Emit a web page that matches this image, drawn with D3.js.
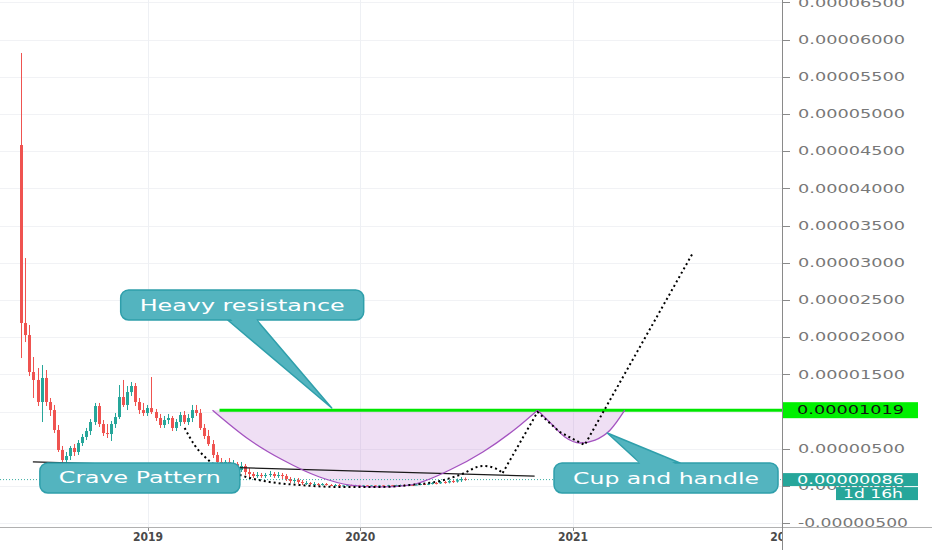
<!DOCTYPE html>
<html><head><meta charset="utf-8">
<script src="https://cdn.jsdelivr.net/npm/d3@7"></script>
<style>html,body{margin:0;padding:0;background:#fff;overflow:hidden}</style>
</head><body><svg id="c" width="932" height="550"></svg>
<script>
// ---------- DATA (prices in units of 1e-8) ----------
const UNIT = 1e-8;
const START_WEEK = "2018-05-28";
const opens = [4583,2191,2029,1532,1425,1129,1452,1129,1021,753, 484,349,403,511,457,578,659,739,860,1075, 833,712,699,833,927,1196,1089,1263,1344,1129, 1021,981,1048,995,914,820,887,914,780,860, 954,860,914,1021,981,780,672,564,417,323, 269,323,269,296,215,269,188,161,134,148, 134,148,161,134,148,134,94,67,81,54, 40,40,27,27,13,27,13,8,13,8, 8,10,6,9,6,8,5,7,5,8, 6,9,7,10,13,10,15,13,20,27, 20,30,40,35,54,48,67,60,78,94];
const closes = [2191,2029,1532,1425,1129,1452,1129,1021,753,484, 349,403,511,457,578,659,739,860,1075,833, 712,699,833,927,1196,1089,1263,1344,1129,1021, 981,1048,995,914,820,887,914,780,860,954, 860,914,1021,981,780,672,564,417,323,269, 323,269,296,215,269,188,161,134,148,134, 148,161,134,148,134,94,67,81,54,40, 40,27,27,13,27,13,8,13,8,8, 10,6,9,6,8,5,7,5,8,6, 9,7,10,13,10,15,13,20,27,20, 30,40,35,54,48,67,60,78,94,86];
const highs = [5820,3064,2164,1734,1586,1626,1559,1183,1089,820, 538,457,538,564,618,699,780,900,1116,1116, 887,833,874,981,1357,1425,1344,1398,1384,1183, 1116,1089,1465,1035,968,941,968,941,900,995, 1008,968,1089,1089,1035,833,753,618,457,376, 349,376,349,323,323,296,242,188,188,175, 175,202,188,188,175,161,121,108,108,81, 67,54,54,40,40,40,27,27,27,13, 20,18,16,15,14,12,13,12,14,12, 15,14,16,20,22,24,27,30,38,40, 45,54,54,67,70,81,90,100,121,115];
const lows = [1720,1935,1478,1183,1075,860,1075,941,712,457, 269,296,349,403,417,538,618,685,820,793, 672,645,605,780,900,1062,1021,1210,1075,968, 941,941,968,874,780,780,833,739,739,806, 833,820,860,941,753,632,538,376,269,228, 228,215,215,175,188,148,121,108,108,108, 108,121,108,108,94,67,40,40,27,13, 13,13,5,5,5,5,3,3,3,3, 3,3,3,2,2,2,2,2,2,2, 3,3,3,5,5,6,6,8,10,12, 12,20,22,27,30,35,40,45,54,70];

const yTickValues = [-0.000005,0,0.000005,0.00001,0.000015,0.00002,0.000025,0.00003,0.000035,0.00004,0.000045,0.00005,0.000055,0.00006,0.000065];
const yearTicks = ["2019","2020","2021","2022"];

const resistance = 1019;
const resistanceStart = "2019-05-04";
const lastPrice = 86;
const countdown = "1d 16h";

const craveDates = ["2018-06-17","2020-10-27"];
const craveValues = [323,134];

const cupDates = ["2019-04-22","2019-06-25","2019-08-21","2019-10-23","2019-12-14","2020-02-04","2020-03-26","2020-06-03","2020-07-30","2020-09-26","2020-11-01"];
const cupValues = [1019,618,349,121,13,-13,13,215,457,780,1019];
const handleDates = ["2020-11-01","2020-11-25","2020-12-18","2021-01-13","2021-02-08","2021-03-06","2021-03-31"];
const handleValues = [1019,833,659,578,618,753,1019];

const projCurveDates = ["2019-03-05","2019-03-22","2019-04-09","2019-04-26","2019-05-25","2019-06-25","2019-07-29","2019-09-19","2019-11-27","2020-02-04","2020-03-26","2020-05-17","2020-06-20","2020-07-30","2020-08-19","2020-09-02"];
const projCurveValues = [780,551,390,282,188,108,54,13,-13,-13,13,67,148,269,242,175];
const projLineDates = ["2020-09-02","2020-11-01","2020-12-09","2021-01-21","2021-07-26"];
const projLineValues = [175,995,726,551,3131];

const noteTexts = ["Heavy resistance","Crave Pattern","Cup and handle"];

// ---------- DRAW ----------
const parse = d3.timeParse("%Y-%m-%d");
const svg = d3.select("#c");
const plotR = 782, plotB = 527;
const x = d3.scaleTime().domain([parse("2019-01-01"), parse("2021-01-01")]).range([148, 573]);
const y = d3.scaleLinear().domain([-0.000005, 0.000065]).range([523.2, 2.4]);
const u = v => v * UNIT;
const FONT = "DejaVu Sans, Liberation Sans, sans-serif";

svg.append("rect").attr("width", 932).attr("height", 550).attr("fill", "#fff");
const defs = svg.append("defs");
defs.append("clipPath").attr("id", "plot").append("rect").attr("width", plotR).attr("height", plotB);
defs.append("clipPath").attr("id", "yax").append("rect").attr("x", plotR).attr("width", 150).attr("height", plotB);
defs.append("clipPath").attr("id", "xax").append("rect").attr("y", plotB).attr("width", plotR).attr("height", 30);

const plot = svg.append("g").attr("clip-path", "url(#plot)");

// grid
plot.selectAll(".hg").data(yTickValues).join("line")
  .attr("x1", 0).attr("x2", plotR).attr("y1", d => Math.round(y(d)) + 0.5).attr("y2", d => Math.round(y(d)) + 0.5)
  .attr("stroke", "#f1f2f5");
plot.selectAll(".vg").data(yearTicks).join("line")
  .attr("x1", d => Math.round(x(parse(d + "-01-01"))) + 0.5).attr("x2", d => Math.round(x(parse(d + "-01-01"))) + 0.5)
  .attr("y1", 0).attr("y2", plotB).attr("stroke", "#eef0f4");

// cup fill
const ptsOf = (ds, vs) => ds.map((d, i) => [x(parse(d)), y(u(vs[i]))]);
const cupPts = ptsOf(cupDates, cupValues);
const handlePts = ptsOf(handleDates, handleValues);
const area = d3.area().x(d => d[0]).y0(y(u(resistance))).y1(d => d[1]).curve(d3.curveMonotoneX);
const curveLine = d3.line().x(d => d[0]).y(d => d[1]).curve(d3.curveMonotoneX);
[cupPts, handlePts].forEach(p => plot.append("path").attr("d", area(p)).attr("fill", "rgba(190,120,210,0.24)"));

// candles
const weeks = opens.map((_, i) => d3.timeDay.offset(parse(START_WEEK), 7 * i));
const candles = plot.append("g");
weeks.forEach((d, i) => {
  const cx = x(d);
  const up = closes[i] >= opens[i];
  const col = up ? "#26a69a" : "#ef5350";
  candles.append("line")
    .attr("x1", Math.round(cx) + 0.5).attr("x2", Math.round(cx) + 0.5)
    .attr("y1", y(u(highs[i]))).attr("y2", y(u(lows[i])))
    .attr("stroke", col).attr("stroke-width", 1);
  const yt = y(u(Math.max(opens[i], closes[i]))), yb = y(u(Math.min(opens[i], closes[i])));
  candles.append("rect")
    .attr("x", Math.round(cx) - 1).attr("width", 3)
    .attr("y", yt).attr("height", Math.max(1, yb - yt))
    .attr("fill", col);
});

// current price dotted line
plot.append("line").attr("x1", 0).attr("x2", plotR)
  .attr("y1", y(u(lastPrice))).attr("y2", y(u(lastPrice)))
  .attr("stroke", "#26a69a").attr("stroke-width", 1).attr("stroke-dasharray", "1,2").attr("opacity", 0.9);

// crave trend line
const cr = ptsOf(craveDates, craveValues);
plot.append("line").attr("x1", cr[0][0]).attr("y1", cr[0][1]).attr("x2", cr[1][0]).attr("y2", cr[1][1])
  .attr("stroke", "#1a1a1a").attr("stroke-width", 1.3);

// resistance line
plot.append("line").attr("x1", x(parse(resistanceStart))).attr("x2", plotR)
  .attr("y1", y(u(resistance))).attr("y2", y(u(resistance)))
  .attr("stroke", "#00e600").attr("stroke-width", 3);

// cup strokes
[cupPts, handlePts].forEach(p => plot.append("path").attr("d", curveLine(p))
  .attr("fill", "none").attr("stroke", "#a453c0").attr("stroke-width", 1.3));

// projection
plot.append("path").attr("d", curveLine(ptsOf(projCurveDates, projCurveValues)))
  .attr("fill", "none").attr("stroke", "#000").attr("stroke-width", 2).attr("stroke-dasharray", "2,3");
plot.append("path").attr("d", d3.line()(ptsOf(projLineDates, projLineValues)))
  .attr("fill", "none").attr("stroke", "#000").attr("stroke-width", 2).attr("stroke-dasharray", "2,3");

// callouts
const CFILL = "#53b4bf", CSTROKE = "#2f9fab";
function callout(o) {
  const cx = x(parse(o.date)), cy = y(u(o.value));
  const bx = cx - o.w / 2, by = cy - o.h / 2;
  const g = svg.append("g");
  let cover = null;
  if (o.tipDate) {
    const T = [x(parse(o.tipDate)), y(u(o.tipValue))];
    const baseY = o.side === "bottom" ? by + o.h : by;
    const dir = o.side === "bottom" ? 1 : -1;
    const L = [cx + o.b0, baseY], R = [cx + o.b1, baseY];
    g.append("path").attr("d", "M" + [L, T, R].join("L") + "Z")
      .attr("fill", CFILL).attr("stroke", CSTROKE).attr("stroke-width", 1.5).attr("stroke-linejoin", "round");
    const t = 6 / Math.abs(T[1] - baseY);
    const lerp = (a, b, t) => [a[0] + (b[0] - a[0]) * t, a[1] + (b[1] - a[1]) * t];
    const L2 = lerp(L, T, t), R2 = lerp(R, T, t);
    cover = [[L[0] + 1.6, baseY - dir * 3], [L2[0] + 1.6, L2[1]], [R2[0] - 1.6, R2[1]], [R[0] - 1.6, baseY - dir * 3]];
  }
  g.append("rect").attr("x", bx).attr("y", by).attr("width", o.w).attr("height", o.h).attr("rx", 8)
    .attr("fill", CFILL).attr("stroke", CSTROKE).attr("stroke-width", 1.5);
  if (cover) g.append("path").attr("d", "M" + cover.join("L") + "Z").attr("fill", CFILL);
  g.append("text").attr("x", cx).attr("y", cy).attr("dy", "0.36em").attr("text-anchor", "middle")
    .attr("font-family", FONT).attr("font-size", o.fs).attr("fill", "#fff")
    .attr("textLength", o.tl).attr("lengthAdjust", "spacingAndGlyphs").text(o.text);
}
callout({text: noteTexts[0], date: "2019-06-12", value: 2433, w: 243, h: 30, fs: 16, tl: 205,
  tipDate: "2019-11-13", tipValue: 1048, side: "bottom", b0: -14.5, b1: 14.5});
callout({text: noteTexts[1], date: "2018-12-18", value: 108, w: 200, h: 30, fs: 15, tl: 162});
callout({text: noteTexts[2], date: "2021-06-10", value: 108, w: 224, h: 30, fs: 16, tl: 186,
  tipDate: "2021-03-01", tipValue: 712, side: "top", b0: -26, b1: 14});

// axis panel
svg.append("rect").attr("x", plotR).attr("y", 0).attr("width", 150).attr("height", 550).attr("fill", "#fff");
const yax = svg.append("g").attr("clip-path", "url(#yax)");
yax.selectAll(".tk").data(yTickValues).join("line")
  .attr("x1", plotR).attr("x2", plotR + 8).attr("y1", d => Math.round(y(d)) + 0.5).attr("y2", d => Math.round(y(d)) + 0.5)
  .attr("stroke", "#8a8a8a");
const fmt = d3.format(".8f");
yax.selectAll(".tl").data(yTickValues).join("text")
  .attr("x", 798).attr("y", d => y(d)).attr("dy", "0.36em")
  .attr("font-family", FONT).attr("font-size", 11.5).attr("fill", "#787878")
  .attr("textLength", d => d < 0 ? 110 : 107).attr("lengthAdjust", "spacingAndGlyphs")
  .text(d => fmt(d).replace("\u2212", "-"));

// resistance label
const ry = y(u(resistance));
svg.append("rect").attr("x", plotR + 1).attr("y", ry - 8).attr("width", 135).attr("height", 16).attr("fill", "#00f000");
svg.append("text").attr("x", 797).attr("y", ry).attr("dy", "0.36em")
  .attr("font-family", FONT).attr("font-size", 11.5).attr("fill", "#111")
  .attr("textLength", 107).attr("lengthAdjust", "spacingAndGlyphs").text(fmt(u(resistance)));

// last price label + countdown
const py = y(u(lastPrice));
svg.append("rect").attr("x", plotR + 1).attr("y", py - 6.5).attr("width", 135).attr("height", 13).attr("fill", "#26a69a");
svg.append("text").attr("x", 797).attr("y", py).attr("dy", "0.36em")
  .attr("font-family", FONT).attr("font-size", 11.5).attr("fill", "#fff")
  .attr("textLength", 107).attr("lengthAdjust", "spacingAndGlyphs").text(fmt(u(lastPrice)));
svg.append("rect").attr("x", 836).attr("y", py + 7.5).attr("width", 82).attr("height", 13).attr("fill", "#26a69a");
svg.append("text").attr("x", 843).attr("y", py + 14).attr("dy", "0.36em")
  .attr("font-family", FONT).attr("font-size", 11.5).attr("fill", "#fff")
  .attr("textLength", 60).attr("lengthAdjust", "spacingAndGlyphs").text(countdown);

// x axis
const xax = svg.append("g").attr("clip-path", "url(#xax)");
xax.selectAll(".xt").data(yearTicks).join("line")
  .attr("x1", d => Math.round(x(parse(d + "-01-01"))) + 0.5).attr("x2", d => Math.round(x(parse(d + "-01-01"))) + 0.5)
  .attr("y1", plotB).attr("y2", plotB + 4).attr("stroke", "#8a8a8a");
xax.selectAll(".xl").data(yearTicks).join("text")
  .attr("x", d => x(parse(d + "-01-01"))).attr("y", 541).attr("text-anchor", "middle")
  .attr("font-family", FONT).attr("font-size", 11.5).attr("font-weight", "bold").attr("fill", "#4a4a4a")
  .attr("textLength", 30).attr("lengthAdjust", "spacingAndGlyphs").text(d => d);

// axis lines
svg.append("line").attr("x1", 0).attr("x2", 932).attr("y1", plotB + 0.5).attr("y2", plotB + 0.5).attr("stroke", "#b0b0b0");
svg.append("line").attr("x1", plotR + 0.5).attr("x2", plotR + 0.5).attr("y1", 0).attr("y2", 550).attr("stroke", "#8a8a8a");
</script></body></html>
